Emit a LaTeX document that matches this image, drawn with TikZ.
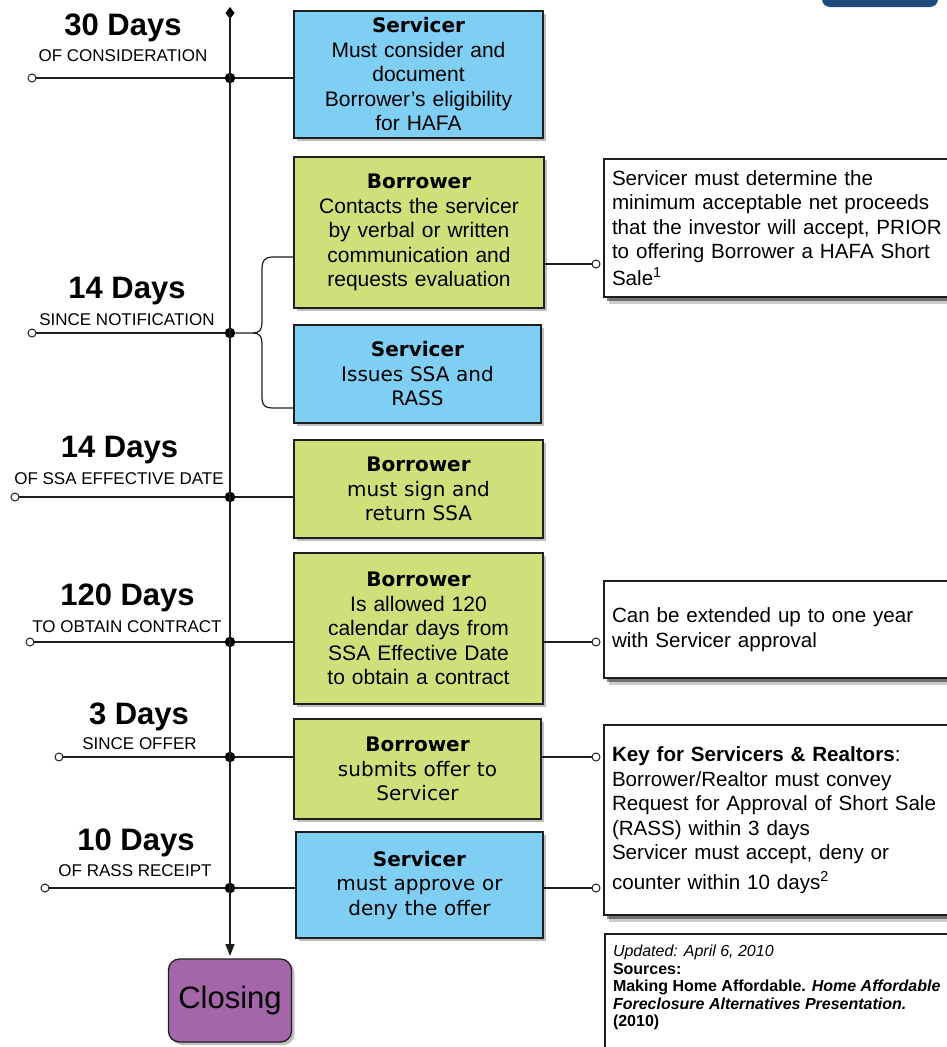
\documentclass[tikz,border=0pt]{standalone}
\usepackage{fontspec}
\setmainfont{Liberation Sans}
\newfontfamily\verd{DejaVu Sans}
\usetikzlibrary{shapes.geometric,shadows,arrows.meta}
\definecolor{bluefill}{RGB}{127,206,244}
\definecolor{greenfill}{RGB}{207,224,122}
\definecolor{purplefill}{RGB}{164,102,168}
\definecolor{navy}{RGB}{31,74,124}
\definecolor{edge}{RGB}{30,30,30}
\newcommand{\boxtitle}[1]{{\verd\bfseries\fontsize{20}{24.5}\selectfont #1}}
\begin{document}
\begin{tikzpicture}[x=1pt,y=-1pt,
  every node/.style={inner sep=0pt, outer sep=0pt},
  tbox/.style={draw=edge, line width=1.2pt, align=center,
    drop shadow={shadow xshift=3pt, shadow yshift=-3pt, opacity=0.25, fill=black}},
  bluebox/.style={tbox, fill=bluefill},
  greenbox/.style={tbox, fill=greenfill},
  arialbody/.style={font=\fontsize{21}{24.5}\selectfont},
  verdbody/.style={font=\verd\fontsize{20}{24.5}\selectfont},
  notebox/.style={draw=edge, line width=1.4pt, fill=white, align=left,
    text width=352pt, inner xsep=8pt, font=\fontsize{20.6}{24.5}\selectfont,
    drop shadow={shadow xshift=5pt, shadow yshift=-7pt, opacity=0.2, fill=black},
    drop shadow={shadow xshift=3pt, shadow yshift=-4pt, opacity=0.45, fill=black}},
  dot/.style={circle, fill=black, minimum size=10.5pt},
  opendot/.style={circle, draw=edge, fill=white, line width=1pt, minimum size=8pt},
  spine/.style={draw=edge, line width=1.6pt},
  conn/.style={draw=edge, line width=1.2pt},
  days/.style={font=\bfseries\fontsize{31}{31}\selectfont, anchor=base},
  sublabel/.style={font=\fontsize{17}{17}\selectfont, anchor=base}
]
\useasboundingbox (0,0) rectangle (947,1047);
\clip (0,0) rectangle (947,1047);

% top-right partial shape
\fill[navy, rounded corners=8pt] (822,-12) rectangle (938,7);

% timeline labels
\node[days] (t1) at (123,35) {30 Days};
\node[sublabel] (s1) at (123,61) {OF CONSIDERATION};
\node[days] (t2) at (127,298) {14 Days};
\node[sublabel] (s2) at (127,325) {SINCE NOTIFICATION};
\node[days] (t3) at (119.5,457) {14 Days};
\node[sublabel] (s3) at (119,484) {OF SSA EFFECTIVE DATE};
\node[days] (t4) at (127.5,605) {120 Days};
\node[sublabel] (s4) at (127,632) {TO OBTAIN CONTRACT};
\node[days] (t5) at (139,724) {3 Days};
\node[sublabel] (s5) at (139.5,749) {SINCE OFFER};
\node[days] (t6) at (136,850) {10 Days};
\node[sublabel] (s6) at (135,876) {OF RASS RECEIPT};

% step boxes
\node[bluebox, arialbody, minimum width=249pt, minimum height=127pt, text width=240pt] (b1) at (418.5,74.5)
  {\boxtitle{Servicer}\\Must consider and\\document\\Borrower’s eligibility\\for HAFA};
\node[greenbox, arialbody, minimum width=250pt, minimum height=151pt, text width=240pt] (b2) at (419,232.5)
  {\boxtitle{Borrower}\\Contacts the servicer\\by verbal or written\\communication and\\requests evaluation};
\node[bluebox, verdbody, minimum width=247pt, minimum height=98pt, text width=240pt] (b3) at (417.5,374)
  {\boxtitle{Servicer}\\Issues SSA and\\RASS};
\node[greenbox, verdbody, minimum width=249pt, minimum height=98pt, text width=240pt] (b4) at (418.5,489)
  {\boxtitle{Borrower}\\must sign and\\return SSA};
\node[greenbox, arialbody, minimum width=249pt, minimum height=151pt, text width=240pt] (b5) at (418.5,628.5)
  {\boxtitle{Borrower}\\Is allowed 120\\calendar days from\\SSA Effective Date\\to obtain a contract};
\node[greenbox, verdbody, minimum width=247pt, minimum height=100pt, text width=240pt] (b6) at (417.5,769)
  {\boxtitle{Borrower}\\submits offer to\\Servicer};
\node[bluebox, verdbody, minimum width=247pt, minimum height=106pt, text width=240pt] (b7) at (419.5,885)
  {\boxtitle{Servicer}\\must approve or\\deny the offer};

% closing
\node[draw=edge, line width=1.3pt, fill=purplefill, rounded corners=11pt,
  minimum width=123pt, minimum height=83pt, font=\fontsize{31}{31}\selectfont,
  drop shadow={shadow xshift=3pt, shadow yshift=-3pt, opacity=0.25, fill=black}] (cl) at (230,1000.5) {Closing};

% note boxes (left edge at x=604, text from x=612)
\node[notebox, minimum height=138pt] (n1) at (788,228)
  {Servicer must determine the\\minimum acceptable net proceeds\\that the investor will accept, PRIOR\\to offering Borrower a HAFA Short\\[2pt]Sale\textsuperscript{1}};
\node[notebox, minimum height=97pt] (n2) at (788,629.5)
  {Can be extended up to one year\\with Servicer approval};
\node[notebox, minimum height=190pt] (n3) at (788,820)
  {\textbf{Key for Servicers \& Realtors}:\\Borrower/Realtor must convey\\Request for Approval of Short Sale\\(RASS) within 3 days\\Servicer must accept, deny or\\[5pt]counter within 10 days\textsuperscript{2}};
\node[draw=edge, line width=1.4pt, fill=white, minimum width=347pt, minimum height=136pt,
  drop shadow={shadow xshift=4pt, shadow yshift=-5pt, opacity=0.3, fill=black}] (n4) at (778.5,1002) {};
\node[anchor=north west, align=left, font=\fontsize{16}{17.5}\selectfont] (src) at (613,945)
  {\textit{Updated: April 6, 2010}\\\textbf{Sources:}\\\textbf{Making Home Affordable. \textit{Home Affordable}}\\\textbf{\textit{Foreclosure Alternatives Presentation.}}\\\textbf{(2010)}};

% timeline spine
\node[diamond, fill=black, minimum width=9pt, minimum height=12pt] (top) at (230,13) {};
\node[dot] (d1) at (230,78) {};
\node[dot] (d2) at (230,333) {};
\node[dot] (d3) at (230,497) {};
\node[dot] (d4) at (230,642) {};
\node[dot] (d5) at (230,757) {};
\node[dot] (d6) at (230,888) {};
\draw[spine] (top.center) -- (d1.center) -- (d2.center) -- (d3.center) -- (d4.center) -- (d5.center) -- (d6.center);
\draw[spine, -{Triangle[length=12pt,width=9pt]}, shorten >=3pt] (d6.center) -- (cl.north);

% left open ends
\node[opendot] (c1) at (32,78) {};
\node[opendot] (c2) at (32,333) {};
\node[opendot] (c3) at (15,497) {};
\node[opendot] (c4) at (30,642) {};
\node[opendot] (c5) at (59,757) {};
\node[opendot] (c6) at (45,888) {};
\draw[conn] (c1) -- (d1);
\draw[conn] (c2) -- (d2);
\draw[conn] (c3) -- (d3);
\draw[conn] (c4) -- (d4);
\draw[conn] (c5) -- (d5);
\draw[conn] (c6) -- (d6);

% spine to boxes
\draw[conn] (d1) -- (d1 -| b1.west);
\coordinate (bt) at (0,257);
\coordinate (bb) at (0,408);
\draw[conn] (d2) -- (253,333) .. controls (259,333) and (262,330) .. (262,323)
  -- (262,268) .. controls (262,261) and (265,257) .. (272,257) -- (b2.west |- bt);
\draw[conn] (253,333) .. controls (259,333) and (262,336) .. (262,343)
  -- (262,398) .. controls (262,405) and (265,408) .. (272,408) -- (b3.west |- bb);
\draw[conn] (d3) -- (d3 -| b4.west);
\draw[conn] (d4) -- (d4 -| b5.west);
\draw[conn] (d5) -- (d5 -| b6.west);
\draw[conn] (d6) -- (d6 -| b7.west);

% boxes to notes
\node[opendot] (r1) at (596,264) {};
\node[opendot] (r2) at (596,642) {};
\node[opendot] (r3) at (596,757) {};
\node[opendot] (r4) at (596,888) {};
\draw[conn] (b2.east |- r1) -- (r1);
\draw[conn] (b5.east |- r2) -- (r2);
\draw[conn] (b6.east |- r3) -- (r3);
\draw[conn] (b7.east |- r4) -- (r4);
\end{tikzpicture}
\end{document}
